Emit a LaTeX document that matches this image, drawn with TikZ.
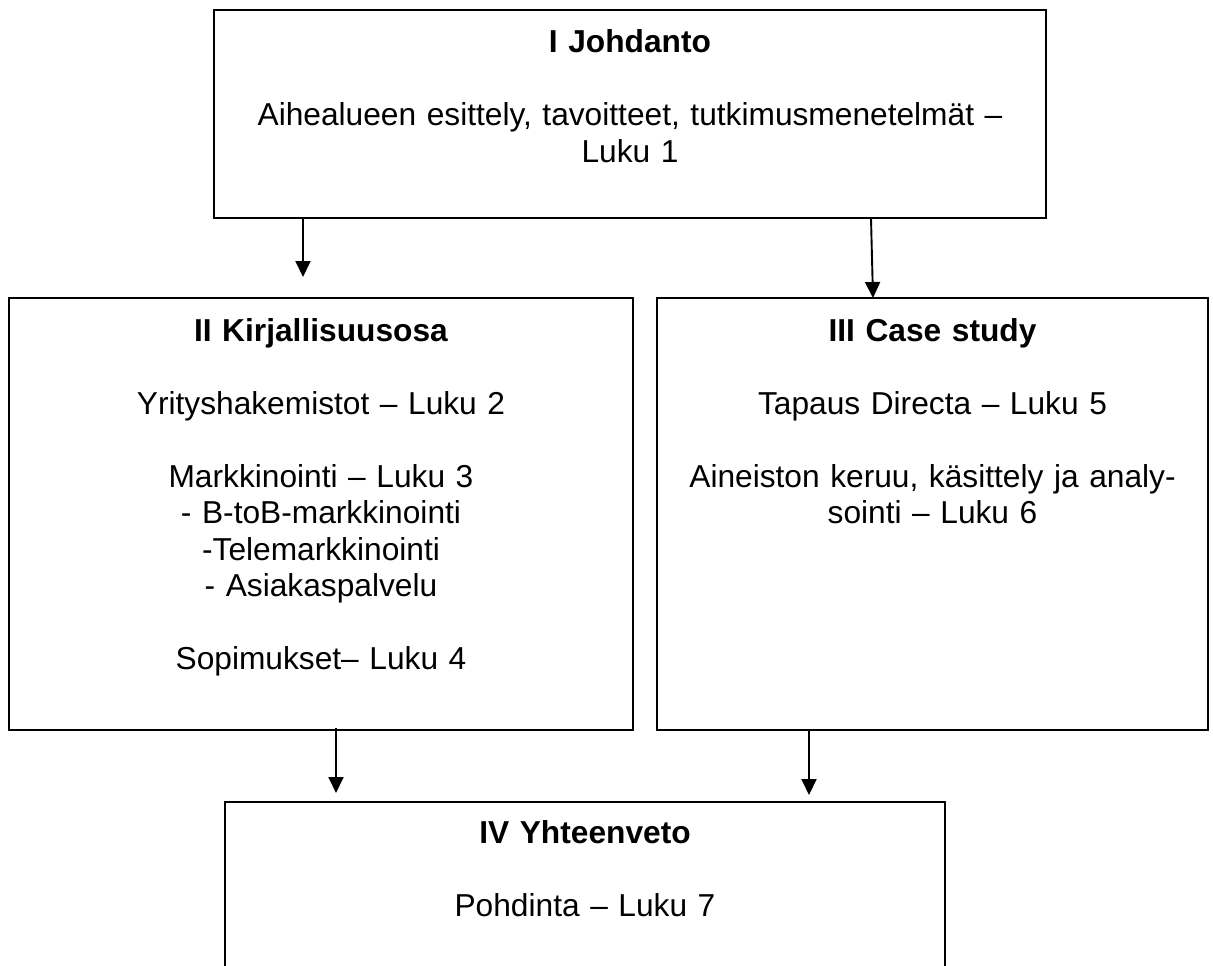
\documentclass[tikz,border=0pt]{standalone}
\usepackage{fontspec}
\setmainfont{Liberation Sans}
\usetikzlibrary{arrows.meta}
\tikzset{
  boxnode/.style={draw=black, line width=1.9pt, rectangle, inner sep=0pt, outer sep=0pt, fill=none},
  txtnode/.style={anchor=base, inner sep=0pt, align=center, font=\fontsize{31.7}{36.5}\selectfont},
  flowarrow/.style={draw=black, line width=1.9pt, -{Triangle[length=16pt,width=15pt]}}
}
\begin{document}
\begin{tikzpicture}[x=1pt,y=-1pt]
\useasboundingbox (0,0) rectangle (1213,966);
\fill[white] (0,0) rectangle (1213,966);
\clip (0,0) rectangle (1213,966);
% boxes
\node[boxnode, minimum width=832pt, minimum height=208pt] (b1) at (630,114) {};
\node[boxnode, minimum width=624pt, minimum height=432pt] (b2) at (321,514) {};
\node[boxnode, minimum width=551pt, minimum height=432pt] (b3) at (932.5,514) {};
\node[boxnode, minimum width=720pt, minimum height=200pt] (b4) at (585,902) {};
% texts
\node[txtnode, text width=820pt] (t1) at (630,53) {\textbf{I Johdanto}\\[36.5pt]Aihealueen esittely, tavoitteet, tutkimusmenetelmät –\\Luku 1};
\node[txtnode, text width=610pt] (t2) at (321,341) {\textbf{II Kirjallisuusosa}\\[36.5pt]Yrityshakemistot – Luku 2\\[36.5pt]Markkinointi – Luku 3\\- B-toB-markkinointi\\-Telemarkkinointi\\- Asiakaspalvelu\\[36.5pt]Sopimukset– Luku 4};
\node[txtnode, text width=540pt] (t3) at (932.5,341) {\textbf{III Case study}\\[36.5pt]Tapaus Directa – Luku 5\\[36.5pt]Aineiston keruu, käsittely ja analy-\\sointi – Luku 6};
\node[txtnode, text width=700pt] (t4) at (585,843) {\textbf{IV Yhteenveto}\\[36.5pt]Pohdinta – Luku 7};
% arrow end points
\coordinate (a1s) at (303,218);
\coordinate (a1e) at (303,277);
\coordinate (a2s) at (871,218);
\coordinate (a2e) at (873,298);
\coordinate (a3s) at (336,728);
\coordinate (a3e) at (336,793);
\coordinate (a4s) at (809,730);
\coordinate (a4e) at (809,795);
\draw[flowarrow] (a1s) -- (a1e);
\draw[flowarrow] (a2s) -- (a2e);
\draw[flowarrow] (a3s) -- (a3e);
\draw[flowarrow] (a4s) -- (a4e);
\end{tikzpicture}
\end{document}
